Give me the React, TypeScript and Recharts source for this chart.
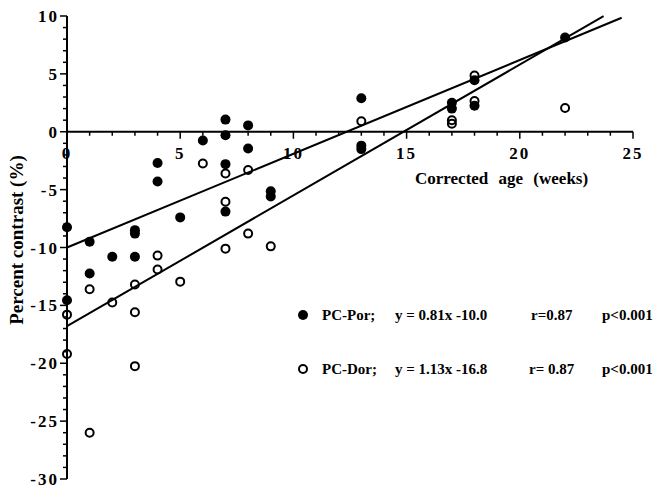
import React from 'react'
import { ScatterChart, Scatter, XAxis, YAxis, ReferenceLine } from 'recharts'

// PC-Por (filled circles)
const porAge = [0, 0, 1, 1, 2, 3, 3, 3, 4, 4, 5, 6, 7, 7, 7, 7, 8, 8, 9, 9, 13, 13, 13, 17, 17, 18, 18, 22]
const porPc = [-8.25, -14.55, -9.5, -12.25, -10.8, -8.5, -8.8, -10.8, -2.7, -4.3, -7.4, -0.75, 1.05, -0.3, -2.8, -6.9, 0.55, -1.45, -5.15, -5.6, 2.9, -1.2, -1.5, 2.5, 2.0, 4.45, 2.25, 8.15]

// PC-Dor (open circles)
const dorAge = [0, 0, 1, 1, 2, 3, 3, 3, 4, 4, 5, 6, 7, 7, 7, 8, 8, 9, 13, 17, 17, 18, 18, 22]
const dorPc = [-15.8, -19.2, -13.6, -26.0, -14.75, -13.2, -15.6, -20.25, -10.7, -11.9, -12.95, -2.75, -3.6, -6.05, -10.1, -3.3, -8.8, -9.9, 0.9, 1.0, 0.7, 4.85, 2.65, 2.05]

// regression fits, from the legend
const fitSlope = [0.81, 1.13]
const fitIntercept = [-10.0, -16.8]
const fitEnd = [24.5, 23.7]

const xTicks = Array.from({ length: 26 }, (_, i) => i)
const yTicks = Array.from({ length: 41 }, (_, i) => i - 30)

const W = 666
const H = 489
const X_AXIS_H = 10
const M = { top: 16, right: 33, bottom: 0, left: 8 }
const PLOT_H = H - M.top - M.bottom - X_AXIS_H
const FONT = '"Liberation Serif", "Times New Roman", serif'

const porData = porAge.map((a, i) => ({ age: a, pc: porPc[i] }))
const dorData = dorAge.map((a, i) => ({ age: a, pc: dorPc[i] }))
const fitData = fitSlope.map((m, i) => [
  { age: 0, pc: fitIntercept[i] },
  { age: fitEnd[i], pc: m * fitEnd[i] + fitIntercept[i] },
])

const YTick = (p: any) => {
  const v = p.payload.value
  const major = v % 5 === 0
  return (
    <g>
      <line x1={p.x} x2={p.x - (major ? 7 : 4)} y1={p.y} y2={p.y} stroke="#000" strokeWidth={1.5} />
      {major && (
        <text x={p.x - 8} y={p.y + 6} textAnchor="end" fontFamily={FONT} fontWeight="bold"
          fontSize={17} letterSpacing={2} fill="#000">{v}</text>
      )}
    </g>
  )
}

// x axis sits on the zero line, not at the bottom
const XTick = (p: any) => {
  const v = p.payload.value
  const major = v % 5 === 0
  const zy = M.top + PLOT_H * 10 / 40
  return (
    <g>
      <line x1={p.x} x2={p.x} y1={zy} y2={zy + (major ? 7 : 4)} stroke="#000" strokeWidth={1.5} />
      {major && (
        <text x={p.x} y={zy + 27} textAnchor="middle" fontFamily={FONT} fontWeight="bold"
          fontSize={17} letterSpacing={2} fill="#000">{v}</text>
      )}
    </g>
  )
}

const Filled = (p: any) => <circle cx={p.cx} cy={p.cy} r={5} fill="#000" />
const Open = (p: any) => <circle cx={p.cx} cy={p.cy} r={4} fill="none" stroke="#000" strokeWidth={2} />
const NoDot = () => <g />

const txt: React.CSSProperties = {
  position: 'absolute', fontFamily: FONT, fontWeight: 'bold', fontSize: 15,
  whiteSpace: 'nowrap', lineHeight: '16px', color: '#000',
}

export default function App() {
  return (
    <div style={{ position: 'absolute', left: 0, top: 0, width: W, height: H, background: '#fff' }}>
      <ScatterChart width={W} height={H} margin={M}>
        <XAxis type="number" dataKey="age" domain={[0, 25]} ticks={xTicks} interval={0}
          axisLine={false} tickLine={false} tickSize={0} tickMargin={0} height={X_AXIS_H} tick={<XTick />} />
        <YAxis type="number" dataKey="pc" domain={[-30, 10]} ticks={yTicks} interval={0} width={59}
          axisLine={{ stroke: '#000', strokeWidth: 2 }} tickLine={false} tickSize={0} tickMargin={0}
          tick={<YTick />} />
        <ReferenceLine y={0} stroke="#000" strokeWidth={2} />
        {fitData.map((d, i) => (
          <Scatter key={i} data={d} line={{ stroke: '#000', strokeWidth: 2 }} shape={<NoDot />}
            isAnimationActive={false} />
        ))}
        <Scatter data={porData} shape={<Filled />} isAnimationActive={false} />
        <Scatter data={dorData} shape={<Open />} isAnimationActive={false} />
      </ScatterChart>

      <div style={{ ...txt, fontSize: 19, left: 17, top: 240, transform: 'translate(-50%, -50%) rotate(-90deg)' }}>
        Percent contrast (%)
      </div>
      <div style={{ ...txt, fontSize: 17, left: 415, top: 171, wordSpacing: 6 }}>Corrected age (weeks)</div>

      <svg style={{ position: 'absolute', left: 296, top: 307 }} width={14} height={70}>
        <circle cx={7} cy={8} r={5} fill="#000" />
        <circle cx={7} cy={62} r={4} fill="none" stroke="#000" strokeWidth={2} />
      </svg>
      <div style={{ ...txt, left: 322, top: 307 }}>PC-Por;</div>
      <div style={{ ...txt, left: 395, top: 307 }}>y = 0.81x -10.0</div>
      <div style={{ ...txt, left: 531, top: 307 }}>r=0.87</div>
      <div style={{ ...txt, left: 602, top: 307 }}>p&lt;0.001</div>
      <div style={{ ...txt, left: 322, top: 361 }}>PC-Dor;</div>
      <div style={{ ...txt, left: 395, top: 361 }}>y = 1.13x -16.8</div>
      <div style={{ ...txt, left: 529, top: 361 }}>r= 0.87</div>
      <div style={{ ...txt, left: 602, top: 361 }}>p&lt;0.001</div>
    </div>
  )
}
